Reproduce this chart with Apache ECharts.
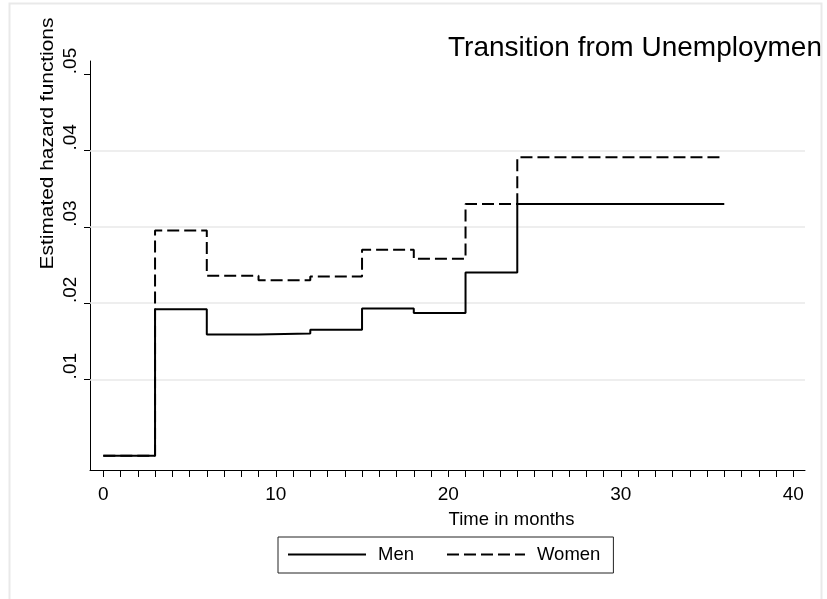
<!DOCTYPE html>
<html>
<head>
<meta charset="utf-8">
<script src="https://cdn.jsdelivr.net/npm/echarts@6/dist/echarts.min.js"></script>
<style>
  html, body { margin: 0; padding: 0; background: #ffffff; }
  #chart { width: 827px; height: 599px; }
</style>
</head>
<body>
<div id="chart"></div>
<script>
// Step start times (months) and the estimated hazard on each interval
const months = [0, 3, 6, 9, 12, 15, 18, 21, 24, 36];
const men    = [0, 0.0192, 0.0159, 0.0160, 0.0165, 0.0193, 0.0187, 0.0240, 0.0330, 0.0330];
const women  = [0, 0.0295, 0.0236, 0.0230, 0.0235, 0.0270, 0.0258, 0.0330, 0.0391, 0.0391];

// Axis ticks, labels and reference lines
const xTickValues  = Array.from({ length: 41 }, (_, i) => i);
const xLabelValues = [0, 10, 20, 30, 40];
const yTickValues  = [0.01, 0.02, 0.03, 0.04, 0.05];
const yGridValues  = [0.01, 0.02, 0.03, 0.04];

const FONT = '"Liberation Sans", Arial, Helvetica, sans-serif';

const chart = echarts.init(document.getElementById('chart'), null, { renderer: 'canvas' });

const pairs = (ys) => months.map((m, i) => [m, ys[i]]);

chart.setOption({
  animation: false,
  backgroundColor: '#ffffff',
  textStyle: { fontFamily: FONT },
  grid: { left: 90, top: 61, width: 715, height: 409, containLabel: false },
  xAxis: {
    type: 'value',
    min: -0.771,
    max: 40.68,
    axisLine: { show: true, onZero: false, lineStyle: { color: '#000', width: 1 } },
    axisTick: { show: true, customValues: xTickValues, length: 7, lineStyle: { color: '#000', width: 1 } },
    axisLabel: { customValues: xLabelValues, fontSize: 19, color: '#000', margin: 15, fontFamily: FONT },
    splitLine: { show: false }
  },
  yAxis: {
    type: 'value',
    min: -0.001874,
    max: 0.05173,
    axisLine: { show: true, onZero: false, lineStyle: { color: '#000', width: 1 } },
    axisTick: { show: true, customValues: yTickValues, length: 6, lineStyle: { color: '#000', width: 1 } },
    axisLabel: {
      customValues: yTickValues,
      rotate: 90,
      align: 'left',
      verticalAlign: 'bottom',
      fontSize: 19,
      color: '#000',
      margin: 9.5,
      fontFamily: FONT,
      formatter: (v) => v.toFixed(2).replace(/^0/, '')
    },
    splitLine: { show: false }
  },
  legend: {
    data: ['Men', 'Women'],
    left: 278,
    top: 537,
    orient: 'horizontal',
    padding: [8, 13, 9, 9],
    itemGap: 32,
    itemWidth: 78,
    itemHeight: 18,
    borderColor: '#222',
    borderWidth: 1,
    borderRadius: 0,
    itemStyle: { opacity: 0 },
    textStyle: { fontSize: 18.5, color: '#000', fontFamily: FONT, padding: [0, 0, 0, 7] }
  },
  series: [
    {
      name: 'grid',
      type: 'line',
      data: [],
      silent: true,
      z: 1,
      markLine: {
        silent: true,
        symbol: 'none',
        label: { show: false },
        z: 1,
        lineStyle: { color: '#e8e8e8', type: 'solid', width: 1.5 },
        data: yGridValues.map((v) => ({ yAxis: v }))
      }
    },
    {
      name: 'Men',
      type: 'line',
      step: 'end',
      z: 3,
      symbol: 'none',
      data: pairs(men),
      lineStyle: { color: '#000', width: 2, type: 'solid' },
      itemStyle: { color: '#000' }
    },
    {
      name: 'Women',
      type: 'line',
      step: 'end',
      z: 3,
      symbol: 'none',
      data: pairs(women),
      lineStyle: { color: '#000', width: 2, type: [12, 5] },
      itemStyle: { color: '#000' }
    }
  ],
  graphic: [
    {
      type: 'text',
      z: 10,
      x: 448,
      y: 48,
      style: {
        text: 'Transition from Unemployment',
        font: '28px ' + FONT,
        fill: '#000',
        textAlign: 'left',
        textVerticalAlign: 'middle'
      }
    },
    {
      type: 'text',
      z: 10,
      x: 48,
      y: 143.5,
      rotation: Math.PI / 2,
      scaleX: 1.16,
      style: {
        text: 'Estimated hazard functions',
        font: '18px ' + FONT,
        fill: '#000',
        textAlign: 'center',
        textVerticalAlign: 'middle'
      }
    },
    {
      type: 'text',
      z: 10,
      x: 511.5,
      y: 520,
      style: {
        text: 'Time in months',
        font: '18.5px ' + FONT,
        fill: '#000',
        textAlign: 'center',
        textVerticalAlign: 'middle'
      }
    },
    {
      type: 'rect',
      z: 20,
      shape: { x: 822, y: 0, width: 10, height: 599 },
      style: { fill: '#ffffff' }
    },
    {
      type: 'rect',
      z: 21,
      shape: { x: 9.5, y: 3.5, width: 812, height: 620 },
      style: { fill: 'none', stroke: '#e9e9e9', lineWidth: 2 }
    }
  ]
});
</script>
</body>
</html>
